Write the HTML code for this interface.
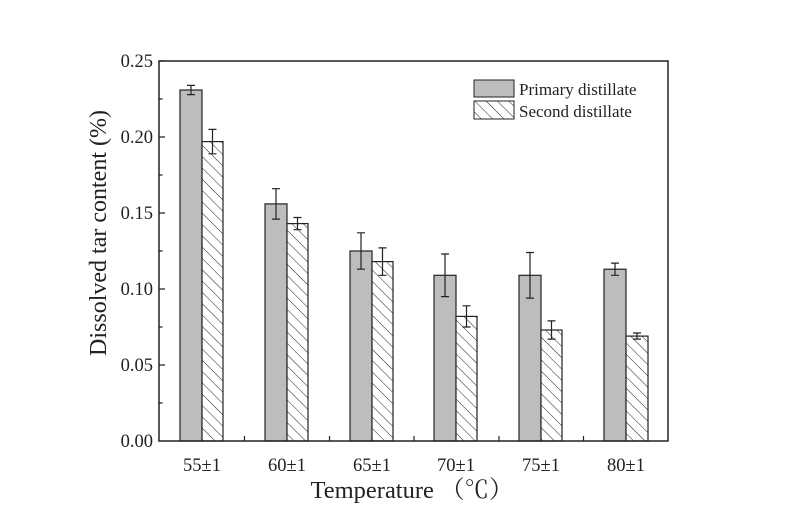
<!DOCTYPE html>
<html><head><meta charset="utf-8"><style>body{margin:0;background:#fff}svg{display:block}</style></head><body>
<svg width="800" height="530" xmlns="http://www.w3.org/2000/svg" font-family="Liberation Serif, Noto Serif CJK SC, serif">
<defs>
<pattern id="h" patternUnits="userSpaceOnUse" width="8" height="8" patternTransform="rotate(-45)">
<rect width="8" height="8" fill="#fff"/><line x1="0" y1="0" x2="0" y2="8" stroke="#222" stroke-width="1"/>
</pattern>
</defs>
<g stroke="#222" stroke-width="1.2">
<rect x="180" y="90" width="22" height="351" fill="#bdbdbd"/>
<rect x="202" y="141.6" width="21" height="299.4" fill="url(#h)"/>
<rect x="265" y="203.9" width="22" height="237.1" fill="#bdbdbd"/>
<rect x="287" y="223.6" width="21" height="217.4" fill="url(#h)"/>
<rect x="350" y="251" width="22" height="190" fill="#bdbdbd"/>
<rect x="372" y="261.6" width="21" height="179.4" fill="url(#h)"/>
<rect x="434" y="275.3" width="22" height="165.7" fill="#bdbdbd"/>
<rect x="456" y="316.4" width="21" height="124.6" fill="url(#h)"/>
<rect x="519" y="275.3" width="22" height="165.7" fill="#bdbdbd"/>
<rect x="541" y="330" width="21" height="111" fill="url(#h)"/>
<rect x="604" y="269.2" width="22" height="171.8" fill="#bdbdbd"/>
<rect x="626" y="336.1" width="22" height="104.9" fill="url(#h)"/>
</g>
<g stroke="#222" stroke-width="1.2" fill="none">
<path d="M191 85.4V94.6M187 85.4H195M187 94.6H195"/>
<path d="M212.5 129.4V153.8M208.5 129.4H216.5M208.5 153.8H216.5"/>
<path d="M276 188.7V219.1M272 188.7H280M272 219.1H280"/>
<path d="M297.5 217.5V229.7M293.5 217.5H301.5M293.5 229.7H301.5"/>
<path d="M361 232.8V269.2M357 232.8H365M357 269.2H365"/>
<path d="M382.5 247.9V275.3M378.5 247.9H386.5M378.5 275.3H386.5"/>
<path d="M445 254V296.6M441 254H449M441 296.6H449"/>
<path d="M466.5 305.8V327M462.5 305.8H470.5M462.5 327H470.5"/>
<path d="M530 252.5V298.1M526 252.5H534M526 298.1H534"/>
<path d="M551.5 320.9V339.1M547.5 320.9H555.5M547.5 339.1H555.5"/>
<path d="M615 263.1V275.3M611 263.1H619M611 275.3H619"/>
<path d="M637 333V339.1M633 333H641M633 339.1H641"/>
</g>
<rect x="159" y="61" width="509" height="380" fill="none" stroke="#222" stroke-width="1.5"/>
<g stroke="#222" stroke-width="1.2">
<path d="M159 61h6M159 137h6M159 213h6M159 289h6M159 365h6M159 99h3.5M159 175h3.5M159 251h3.5M159 327h3.5M159 403h3.5"/>
<path d="M244.5 441v-5M329.5 441v-5M414 441v-5M499 441v-5M583.5 441v-5"/>
</g>
<g font-size="18.5" fill="#222" text-anchor="end">
<text x="153" y="67">0.25</text><text x="153" y="143">0.20</text><text x="153" y="219">0.15</text>
<text x="153" y="295">0.10</text><text x="153" y="371">0.05</text><text x="153" y="447">0.00</text>
</g>
<g font-size="18.5" fill="#222" text-anchor="middle">
<text x="202" y="471">55±1</text><text x="287" y="471">60±1</text><text x="372" y="471">65±1</text>
<text x="456" y="471">70±1</text><text x="541" y="471">75±1</text><text x="626" y="471">80±1</text>
</g>
<text x="412" y="498" font-size="24.5" text-anchor="middle" fill="#222">Temperature （℃）</text>
<text transform="translate(106,233) rotate(-90)" font-size="24" text-anchor="middle" fill="#222">Dissolved tar content (%)</text>
<rect x="474" y="80" width="40" height="17" fill="#bdbdbd" stroke="#222" stroke-width="1"/>
<rect x="474" y="101" width="40" height="18" fill="url(#h)" stroke="#222" stroke-width="1"/>
<g font-size="17" fill="#222"><text x="519" y="95">Primary distillate</text><text x="519" y="117">Second distillate</text></g>
</svg>
</body></html>
